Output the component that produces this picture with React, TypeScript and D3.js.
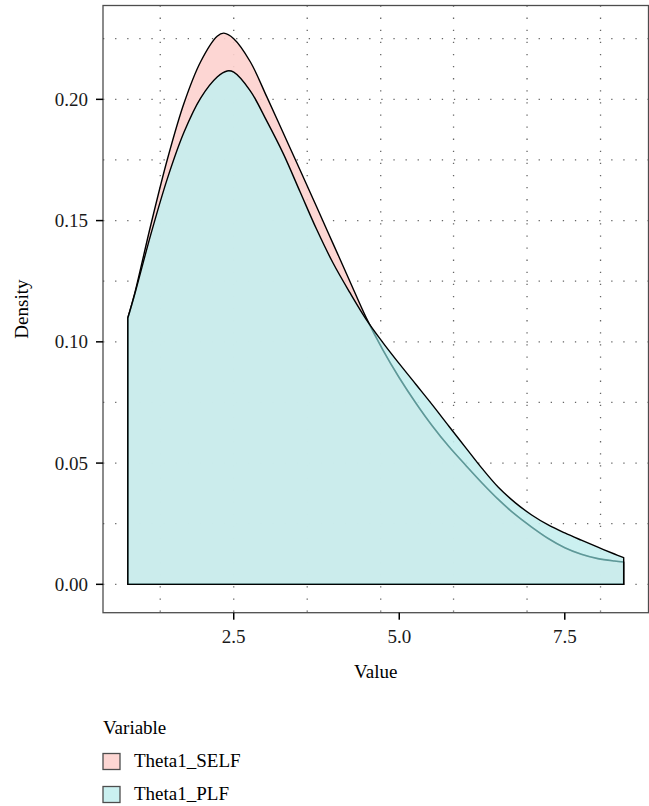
import React from "react";
import * as d3 from "d3";

const seriesNames = ["Theta1_SELF", "Theta1_PLF"];

const selfX = [0.9, 1.0, 1.25, 1.5, 1.75, 2.0, 2.25, 2.35, 2.5, 2.75, 3.0, 3.25, 3.5, 3.75, 4.0, 4.25, 4.5, 4.75, 5.0, 5.25, 5.5, 5.75, 6.0, 6.25, 6.5, 6.75, 7.0, 7.25, 7.5, 7.75, 8.0, 8.25, 8.39];
const selfY = [0.1098, 0.1195, 0.1485, 0.1755, 0.1985, 0.2155, 0.226, 0.2273, 0.225, 0.2155, 0.201, 0.186, 0.171, 0.1558, 0.1405, 0.1252, 0.11, 0.0968, 0.0852, 0.0748, 0.0653, 0.0568, 0.0492, 0.0418, 0.0349, 0.0288, 0.0236, 0.0189, 0.0151, 0.0124, 0.0106, 0.0096, 0.0092];

const plfX = [0.9, 1.0, 1.25, 1.5, 1.75, 2.0, 2.25, 2.4, 2.5, 2.75, 3.0, 3.25, 3.5, 3.75, 4.0, 4.25, 4.5, 4.75, 5.0, 5.25, 5.5, 5.75, 6.0, 6.25, 6.5, 6.75, 7.0, 7.25, 7.5, 7.75, 8.0, 8.25, 8.39];
const plfY = [0.1098, 0.1192, 0.1445, 0.1675, 0.1865, 0.2005, 0.2092, 0.2117, 0.2112, 0.2035, 0.191, 0.1775, 0.162, 0.1465, 0.1325, 0.1205, 0.1093, 0.0998, 0.091, 0.0825, 0.074, 0.0652, 0.0565, 0.0478, 0.0399, 0.0337, 0.0286, 0.0245, 0.0212, 0.0182, 0.0153, 0.0125, 0.011];

const xTicks = [2.5, 5.0, 7.5];
const yTicks = [0, 0.05, 0.1, 0.15, 0.2];
const gridX = [1.39, 2.5, 3.61, 4.72, 5.82, 6.93, 8.04];
const gridY = [0, 0.025, 0.05, 0.075, 0.1, 0.125, 0.15, 0.175, 0.2, 0.225];

const W = 649;
const H = 806;
const L = 103, R = 648.5, T = 5.5, B = 612.7;
const FONT = "'Liberation Serif', serif";

export default function App() {
  const x = d3.scaleLinear().domain([0.5255, 8.7645]).range([L, R]);
  const y = d3.scaleLinear().domain([-0.0117, 0.2387]).range([B, T]);

  const line = d3
    .line<[number, number]>()
    .x((d) => x(d[0]))
    .y((d) => y(d[1]))
    .curve(d3.curveCatmullRom.alpha(0.5));

  const polygon = (xs: number[], ys: number[]) => {
    const pts = xs.map((v, i) => [v, ys[i]] as [number, number]);
    const top = line(pts) as string;
    return `M${x(xs[0])},${y(0)}L${top.slice(1)}L${x(xs[xs.length - 1])},${y(0)}Z`;
  };

  const selfPath = polygon(selfX, selfY);
  const plfPath = polygon(plfX, plfY);

  const pink = "#FDD1CE";
  const cyan = "#C5EEEE";

  return (
    <svg width={W} height={H} style={{ position: "absolute", left: 0, top: 0, background: "#fff" }}>
      <defs>
        <clipPath id="plfClip">
          <path d={plfPath} />
        </clipPath>
        <clipPath id="panelClip">
          <rect x={L} y={T} width={R - L} height={B - T} />
        </clipPath>
      </defs>
      <rect x={0} y={0} width={W} height={H} fill="#fff" />
      <g clipPath="url(#panelClip)">
        {gridY.map((v) => (
          <line key={"gy" + v} x1={L} x2={R} y1={y(v)} y2={y(v)} stroke="#666" strokeWidth={1.3} strokeDasharray="1.3,10.8" />
        ))}
        {gridX.map((v) => (
          <line key={"gx" + v} x1={x(v)} x2={x(v)} y1={T} y2={B} stroke="#666" strokeWidth={1.3} strokeDasharray="1.3,10.8" />
        ))}
      </g>
      <path d={selfPath} fill={pink} fillOpacity={0.9} stroke="#000" strokeWidth={1.4} strokeLinejoin="round" />
      <path d={plfPath} fill={cyan} fillOpacity={0.9} stroke="none" />
      <g clipPath="url(#plfClip)">
        <path d={selfPath} fill="none" stroke="#5e9898" strokeWidth={1.6} />
      </g>
      <path d={plfPath} fill="none" stroke="#000" strokeWidth={1.4} strokeLinejoin="round" />
      <rect x={L} y={T} width={R - L} height={B - T} fill="none" stroke="#4d4d4d" strokeWidth={1.3} />
      {yTicks.map((v) => (
        <g key={"yt" + v}>
          <line x1={L - 7} x2={L} y1={y(v)} y2={y(v)} stroke="#000" strokeWidth={1.5} />
          <text x={L - 15} y={y(v)} dy="0.35em" textAnchor="end" fontFamily={FONT} fontSize={19} fill="#1a1a1a">
            {v.toFixed(2)}
          </text>
        </g>
      ))}
      {xTicks.map((v) => (
        <g key={"xt" + v}>
          <line x1={x(v)} x2={x(v)} y1={B} y2={B + 7} stroke="#000" strokeWidth={1.5} />
          <text x={x(v)} y={643} textAnchor="middle" fontFamily={FONT} fontSize={19} fill="#1a1a1a">
            {v.toFixed(1)}
          </text>
        </g>
      ))}
      <text x={(L + R) / 2} y={678} textAnchor="middle" fontFamily={FONT} fontSize={19} fill="#000">
        Value
      </text>
      <text
        transform={`translate(28,${(T + B) / 2}) rotate(-90)`}
        textAnchor="middle"
        fontFamily={FONT}
        fontSize={19}
        fill="#000"
      >
        Density
      </text>
      <text x={103} y={734} fontFamily={FONT} fontSize={19} fill="#000">
        Variable
      </text>
      {seriesNames.map((name, i) => (
        <g key={name}>
          <rect
            x={103}
            y={753.5 + i * 33}
            width={17}
            height={16}
            fill={i === 0 ? "#FDD6D3" : "#CAF0F0"}
            stroke="#4d4d4d"
            strokeWidth={1.3}
          />
          <text x={134} y={767 + i * 33} fontFamily={FONT} fontSize={19} fill="#000">
            {name}
          </text>
        </g>
      ))}
    </svg>
  );
}
